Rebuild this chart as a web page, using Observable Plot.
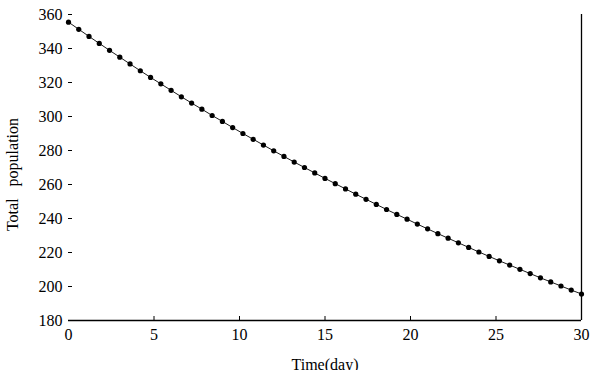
<!DOCTYPE html>
<html>
<head>
<meta charset="utf-8">
<script src="https://cdn.jsdelivr.net/npm/d3@7"></script>
<script src="https://cdn.jsdelivr.net/npm/@observablehq/plot@0.6"></script>
<style>
  html, body { margin: 0; padding: 0; background: #fff; }
  svg { display: block; }
  svg, svg g, svg text { font-family: "Liberation Serif", "Times New Roman", serif !important; font-variant: normal !important; }
</style>
</head>
<body>
<div id="chart"></div>
<script>
// Time points (days): one dot every 0.6 day
const times = [0,0.6,1.2,1.8,2.4,3,3.6,4.2,4.8,5.4,6,6.6,7.2,7.8,8.4,9,9.6,10.2,10.8,11.4,12,12.6,13.2,13.8,14.4,15,15.6,16.2,16.8,17.4,18,18.6,19.2,19.8,20.4,21,21.6,22.2,22.8,23.4,24,24.6,25.2,25.8,26.4,27,27.6,28.2,28.8,29.4,30];
// Total population, estimated from the dots
const population = [355.5,351.3,347.1,343.0,338.9,334.9,330.9,326.9,323.0,319.2,315.4,311.6,307.9,304.3,300.6,297.1,293.5,290.0,286.6,283.2,279.8,276.5,273.2,270.0,266.8,263.6,260.5,257.4,254.3,251.3,248.3,245.3,242.4,239.6,236.7,233.9,231.1,228.4,225.7,223.0,220.3,217.7,215.1,212.6,210.1,207.6,205.1,202.7,200.3,197.9,195.6];
const xTicks = [0,5,10,15,20,25,30];
const yTicks = [180,200,220,240,260,280,300,320,340,360];

const data = times.map((t, i) => ({t, p: population[i]}));

const W = 592, H = 370;
const mL = 68, mR = 11, mT = 14, mB = 50;
const frameW = W - mL - mR, frameH = H - mT - mB;
const font = "Liberation Serif, Times New Roman, serif";

const chart = Plot.plot({
  width: W,
  height: H,
  marginLeft: mL,
  marginRight: mR,
  marginTop: mT,
  marginBottom: mB,
  style: {fontFamily: font, fontSize: "15px", color: "#000", background: "#fff"},
  x: {domain: [0, 30]},
  y: {domain: [180, 360]},
  marks: [
    Plot.axisX(xTicks, {tickSize: 0, tickPadding: 8, fontSize: 16, fontFamily: font, label: null}),
    Plot.axisY(yTicks, {tickSize: 0, tickPadding: 6, fontSize: 16, fontFamily: font, label: null}),
    // inward ticks
    Plot.tickY(yTicks, {y: d => d, insetRight: frameW - 4, stroke: "#000", strokeWidth: 1}),
    Plot.tickX(xTicks.slice(1, -1), {x: d => d, insetTop: frameH - 4, stroke: "#000", strokeWidth: 1}),
    Plot.ruleY([180], {stroke: "#000", strokeWidth: 1.3}),
    Plot.ruleX([30], {y1: 180, y2: 360, stroke: "#000", strokeWidth: 1.3}),
    Plot.line(data, {x: "t", y: "p", stroke: "#000", strokeWidth: 0.9}),
    Plot.dot(data, {x: "t", y: "p", r: 2.6, fill: "#000", stroke: null}),
    Plot.text(["Time(day)"], {frameAnchor: "bottom", dy: 38, lineAnchor: "top", fontSize: 16, fontFamily: font, fill: "#000"}),
    Plot.text(["Total   population"], {frameAnchor: "left", dx: -56, dy: 7, rotate: -90, textAnchor: "middle", fontSize: 16, fontFamily: font, fill: "#000"})
  ]
});
chart.querySelectorAll("text").forEach(t => t.setAttribute("xml:space", "preserve"));
document.getElementById("chart").appendChild(chart);
</script>
</body>
</html>
